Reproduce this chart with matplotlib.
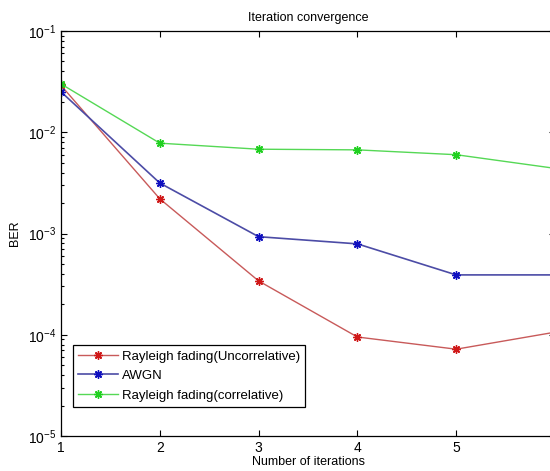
import matplotlib
matplotlib.use('Agg')
import matplotlib.pyplot as plt

iterations = [1, 2, 3, 4, 5, 6]
ber_uncorr = [0.029, 0.0022, 0.00034, 9.5e-5, 7.2e-5, 1.06e-4]
ber_awgn = [0.0251, 0.00315, 0.00093, 0.00079, 0.00039, 0.00039]
ber_corr = [0.030, 0.0078, 0.0068, 0.0067, 0.0060, 0.0044]

labels = ['Rayleigh fading(Uncorrelative)', 'AWGN', 'Rayleigh fading(correlative)']

plt.rcParams['font.family'] = ['Liberation Sans', 'DejaVu Sans']
plt.rcParams['mathtext.default'] = 'regular'
plt.rcParams['axes.unicode_minus'] = False

fig = plt.figure(figsize=(5.5, 4.71), dpi=100)
# axes run slightly past the right edge, like the cropped screenshot
ax = fig.add_axes([61 / 550, 1 - 436 / 471, 494 / 550, 405 / 471])

star = (8, 2, 0)
ax.plot(iterations, ber_uncorr, color='#c85a5a', lw=1, marker=star, ms=6,
        mec='#d01818', mew=1, label=labels[0])
ax.plot(iterations, ber_awgn, color='#4c4ca6', lw=1.2, marker=star, ms=6,
        mec='#1010c0', mew=1, label=labels[1])
ax.plot(iterations, ber_corr, color='#55d855', lw=1, marker=star, ms=6,
        mec='#20d020', mew=1, label=labels[2])

ax.set_yscale('log')
ax.set_xlim(1, 6)
ax.set_ylim(1e-5, 1e-1)
# the last tick (6) falls outside the cropped picture
ax.set_xticks(iterations[:-1])

ax.tick_params(which='both', direction='in', top=True, right=True, labelsize=10, width=0.8)
ax.tick_params(which='major', length=4)
ax.tick_params(which='minor', length=2.5)
for s in ax.spines.values():
    s.set_linewidth(0.9)

ax.set_title('Iteration convergence', fontsize=9, pad=7)
ax.set_xlabel('Number of iterations', fontsize=9, labelpad=1)
ax.set_ylabel('BER', fontsize=9, labelpad=5)

leg = ax.legend(loc='lower left', bbox_to_anchor=(0.024, 0.072), borderaxespad=0,
                fontsize=9.5, fancybox=False, edgecolor='black', framealpha=1,
                handlelength=3.0, handletextpad=0.3, labelspacing=0.55,
                borderpad=0.4)
leg.get_frame().set_linewidth(0.9)

fig.savefig('out.png', dpi=100)
